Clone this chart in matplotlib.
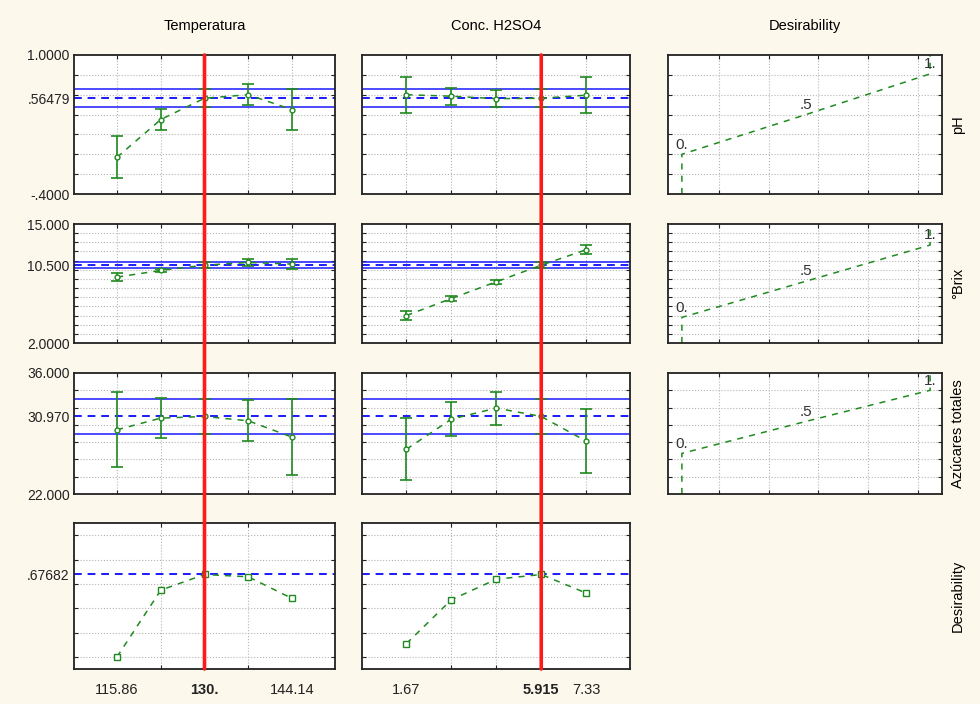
import matplotlib
matplotlib.use("Agg")
import matplotlib.pyplot as plt
from matplotlib.patches import ConnectionPatch
import numpy as np

plt.rcParams['font.family'] = ['Liberation Sans', 'DejaVu Sans']
plt.rcParams['font.size'] = 10

# Factores
factores = ["Temperatura", "Conc. H2SO4"]
niveles = [[115.86, 122.93, 130.0, 137.07, 144.14],
           [1.67, 3.085, 4.5, 5.915, 7.33]]
actual = [130.0, 5.915]
xlims = [(108.9, 151.1), (0.27, 8.71)]
xtick_lab = [["115.86", "130.", "144.14"], ["1.67", "5.915", "7.33"]]
xtick_val = [[115.86, 130.0, 144.14], [1.67, 5.915, 7.33]]

# Respuestas
respuestas = ["pH", "°Brix", "Azúcares totales"]
ylims = [(-0.4, 1.0), (2.0, 15.0), (22.0, 36.0)]
ygrid = [[-0.2, 0.0, 0.2, 0.4, 0.6, 0.8],
         [3, 4, 5, 6, 7, 8, 9, 10, 11, 12, 13, 14],
         [24, 26, 28, 30, 32, 34]]
ytick_lab = [["-.4000", ".56479", "1.0000"],
             ["2.0000", "10.500", "15.000"],
             ["22.000", "30.970", "36.000"]]
pred_actual = [0.56479, 10.5, 30.97]
ic_actual = [0.09, 0.3, 2.0]

# valores predichos e intervalos (filas: respuesta, columnas: factor)
pred = [[[-0.03, 0.35, 0.56479, 0.60, 0.45],
         [0.60, 0.585, 0.56, 0.56479, 0.595]],
        [[9.2, 9.93, 10.5, 10.8, 10.62],
         [5.0, 6.86, 8.69, 10.5, 12.19]],
        [[29.43, 30.78, 30.97, 30.47, 28.58],
         [27.18, 30.66, 31.94, 30.97, 28.11]]]
ic = [[[0.21, 0.105, 0.09, 0.105, 0.21],
       [0.18, 0.087, 0.087, 0.09, 0.18]],
      [[0.45, 0.2, 0.3, 0.35, 0.55],
       [0.45, 0.25, 0.2, 0.3, 0.5]],
      [[4.35, 2.35, 2.0, 2.35, 4.4],
       [3.6, 2.0, 1.9, 2.0, 3.7]]]

# Funciones de deseabilidad (valor de la respuesta para d = 0, .5, 1)
d_niveles = [0.0, 0.5, 1.0]
d_etiquetas = ["0.", ".5", "1."]
d_resp = [[0.0, 0.4, 0.81],
          [4.8, 8.75, 12.7],
          [26.7, 30.4, 34.0]]

# Deseabilidad global
deseab = [[0.0, 0.548, 0.67682, 0.658, 0.48],
          [0.109, 0.469, 0.638, 0.67682, 0.524]]
deseab_actual = 0.67682

fondo = "#fdf8ec"
verde = "#1f8a1f"
azul = "#1a1aff"
rojo = "#ff1a1a"
gris = "#b5b5b5"

fig = plt.figure(figsize=(9.8, 7.04), dpi=100, facecolor=fondo)

W, H = 980.0, 704.0
cols = [(74, 335), (362, 630), (668, 942)]
filas = [(55, 194), (224, 343), (373, 494), (523, 669)]


def crear_ejes(c, f):
    x0, x1 = cols[c]
    y0, y1 = filas[f]
    ax = fig.add_axes([x0 / W, 1 - y1 / H, (x1 - x0) / W, (y1 - y0) / H])
    ax.set_facecolor("white")
    for s in ax.spines.values():
        s.set_linewidth(1.3)
        s.set_color("#222222")
    ax.tick_params(which="both", direction="in", top=True, right=True,
                   length=3, width=0.8, colors="#222222", labelsize=10)
    ax.tick_params(which="major", length=0, pad=3)
    ax.grid(which="minor", linestyle=":", color=gris, linewidth=0.8)
    return ax


ejes = [[None] * 3 for _ in range(4)]

for f in range(4):
    for c in range(3):
        if f == 3 and c == 2:
            continue
        ax = crear_ejes(c, f)
        ejes[f][c] = ax
        if c < 2:
            ax.set_xlim(xlims[c])
            ax.set_xticks(niveles[c], minor=True)
            if f == 3:
                ax.set_xticks(xtick_val[c])
                ax.set_xticklabels(xtick_lab[c])
                ax.get_xticklabels()[1].set_fontweight("bold")
                ax.tick_params(axis="x", which="major", pad=10, labelsize=10.5)
            else:
                ax.set_xticks([])
        else:
            ax.set_xlim(-0.056, 1.048)
            ax.set_xticks([0.15, 0.35, 0.55, 0.75, 0.95], minor=True)
            ax.set_xticks([])

        if f < 3:
            ax.set_ylim(ylims[f])
            ax.set_yticks(ygrid[f], minor=True)
            if c == 0:
                ax.set_yticks([ylims[f][0], pred_actual[f], ylims[f][1]])
                ax.set_yticklabels(ytick_lab[f])
            else:
                ax.set_yticks([])
        else:
            ax.set_ylim(-0.1, 1.1)
            ax.set_yticks([0.0, 0.2, 0.4, 0.6, 0.8, 1.0], minor=True)
            if c == 0:
                ax.set_yticks([deseab_actual])
                ax.set_yticklabels([".67682"])
            else:
                ax.set_yticks([])

# Perfiles de respuesta
for f in range(3):
    for c in range(2):
        ax = ejes[f][c]
        ax.axhline(pred_actual[f], color=azul, linestyle=(0, (4, 3)), linewidth=1.4)
        ax.axhline(pred_actual[f] + ic_actual[f], color=azul, linewidth=1.1)
        ax.axhline(pred_actual[f] - ic_actual[f], color=azul, linewidth=1.1)
        ax.plot(niveles[c], pred[f][c], color=verde, linestyle=(0, (4, 4)),
                linewidth=1.1)
        ax.errorbar(niveles[c], pred[f][c], yerr=ic[f][c], fmt="o", ms=3.5,
                    mfc="white", mec=verde, color=verde, ecolor=verde,
                    elinewidth=1.2, capsize=4, capthick=1.2)

# Funciones de deseabilidad
for f in range(3):
    ax = ejes[f][2]
    xs = [0.0] + d_niveles + [1.0]
    ys = [ylims[f][0]] + d_resp[f] + [ylims[f][1]]
    ax.plot(xs, ys, color=verde, linestyle=(0, (4, 4)), linewidth=1.1)
    for xv, yv, t in zip(d_niveles, d_resp[f], d_etiquetas):
        ax.annotate(t, (xv, yv), xytext=(0, 2), textcoords="offset points",
                    ha="center", va="bottom", fontsize=11, color="#333333")

# Deseabilidad global
for c in range(2):
    ax = ejes[3][c]
    ax.axhline(deseab_actual, color=azul, linestyle=(0, (4, 3)), linewidth=1.4)
    ax.plot(niveles[c], deseab[c], color=verde, linestyle=(0, (4, 4)),
            linewidth=1.1, marker="s", ms=4.5, mfc="white", mec=verde)

# Linea roja del valor actual
for c in range(2):
    con = ConnectionPatch(xyA=(actual[c], 1.0), coordsA=ejes[0][c].get_xaxis_transform(),
                          xyB=(actual[c], 0.0), coordsB=ejes[3][c].get_xaxis_transform(),
                          color=rojo, linewidth=2.6, zorder=10)
    fig.add_artist(con)

# Titulos
for c, t in enumerate(factores + ["Desirability"]):
    x0, x1 = cols[c]
    fig.text((x0 + x1) / 2 / W, 1 - 26 / H, t, ha="center", va="center", fontsize=10.5)

for f, t in enumerate(respuestas + ["Desirability"]):
    y0, y1 = filas[f]
    fig.text(958 / W, 1 - (y0 + y1) / 2 / H, t, rotation=90, ha="center",
             va="center", fontsize=10.5)

fig.savefig("out.png", dpi=100, facecolor=fondo)
